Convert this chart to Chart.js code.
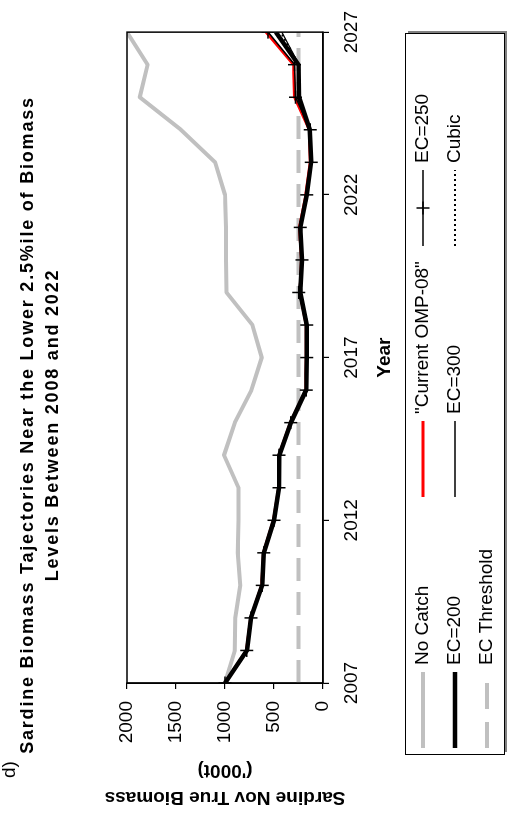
<!DOCTYPE html>
<html>
<head>
<meta charset="utf-8">
<script src="https://cdn.jsdelivr.net/npm/chart.js@4.4.0/dist/chart.umd.min.js"></script>
<style>
  html, body { margin: 0; padding: 0; background: #fff; width: 507px; height: 834px; overflow: hidden; }
  /* the landscape figure is turned a quarter turn to sit on a portrait page */
  #sheet { position: absolute; left: 0; top: 0; width: 834px; height: 507px;
           transform-origin: 0 0; transform: translate(0, 834px) rotate(-90deg); }
</style>
</head>
<body>
<div id="sheet"><canvas id="chart" width="834" height="507"></canvas></div>
<script>
// Sardine November true biomass ('000t) by year
const years = [2007,2008,2009,2010,2011,2012,2013,2014,2015,2016,2017,2018,2019,2020,2021,2022,2023,2024,2025,2026,2027];
const noCatch    = [1000, 900, 895, 845, 870, 862, 862,1010, 900, 730, 625, 720, 985, 990, 990,1000,1100,1450,1870,1790,2000];
const ompCurrent = [1000, 780, 738, 625, 608, 505, 452, 450, 332, 176, 170, 170, 235, 220, 240, 175, 130, 140, 290, 300, 580];
const ec200      = [1000, 776, 735, 621, 604, 500, 449, 446, 328, 172, 166, 166, 232, 214, 231, 166, 121, 135, 245, 250, 480];
const ec250      = [1000, 778, 735, 621, 604, 500, 449, 449, 328, 172, 166, 166, 248, 214, 231, 166, 121, 131, 280, 290, 560];
const ec300      = [1000, 776, 735, 621, 604, 500, 449, 446, 328, 172, 166, 166, 230, 214, 231, 170, 125, 140, 240, 245, 420];
const cubic      = [1000, 776, 735, 621, 604, 500, 449, 446, 328, 172, 166, 166, 230, 214, 231, 170, 125, 140, 245, 250, 430];
const thresholdYears  = [2007, 2027];
const thresholdValues = [250, 250];

const yearTicks    = [2007, 2012, 2017, 2022, 2027];
const biomassTicks = [0, 500, 1000, 1500, 2000];

const FONT = '"Liberation Sans", Arial, sans-serif';
const pts = (xs, ys) => xs.map((x, i) => ({ x: x, y: ys[i] }));

const datasets = [
  { label: 'No Catch', data: pts(years, noCatch), borderColor: '#c0c0c0', borderWidth: 4, order: 7 },
  { label: '"Current OMP-08"', data: pts(years, ompCurrent), borderColor: '#ff0000', borderWidth: 3, order: 5 },
  { label: 'EC=250', data: pts(years, ec250), borderColor: '#000', borderWidth: 1.5,
    pointStyle: 'cross', pointRadius: 6.5, pointBorderWidth: 1.5, pointBorderColor: '#000', order: 1 },
  { label: 'EC=200', data: pts(years, ec200), borderColor: '#000', borderWidth: 4.5, order: 4 },
  { label: 'EC=300', data: pts(years, ec300), borderColor: '#000', borderWidth: 1.3, order: 3 },
  { label: 'Cubic', data: pts(years, cubic), borderColor: '#000', borderWidth: 2, borderDash: [2, 3], order: 2 },
  { label: 'EC Threshold', data: pts(thresholdYears, thresholdValues), borderColor: '#c0c0c0',
    borderWidth: 4, borderDash: [23, 11], order: 6 }
];
datasets.forEach(d => {
  d.fill = false; d.tension = 0; d.borderJoinStyle = 'round';
  if (d.pointRadius === undefined) { d.pointRadius = 0; }
  d.pointHoverRadius = 0;
});

// frame round the plotting area
const frame = {
  id: 'frame',
  afterDatasetsDraw(chart) {
    const a = chart.chartArea, c = chart.ctx;
    c.save();
    c.strokeStyle = '#000'; c.lineWidth = 1.5;
    c.strokeRect(a.left, a.top, a.right - a.left, a.bottom - a.top);
    c.restore();
  }
};

// titles, panel letter and the boxed legend
const decor = {
  id: 'decor',
  afterDraw(chart) {
    const c = chart.ctx, a = chart.chartArea;
    c.save();
    c.fillStyle = '#000';
    c.textBaseline = 'middle';

    c.font = 'bold 18px ' + FONT;
    c.textAlign = 'center';
    c.letterSpacing = '1.8px';
    c.fillText('Sardine Biomass Tajectories Near the Lower 2.5%ile of Biomass', 409, 28);
    c.fillText('Levels Between 2008 and 2022', 409, 53);
    c.letterSpacing = '0px';

    c.font = '19px ' + FONT;
    c.textAlign = 'left';
    c.fillText('d)', 56, 10);

    // value axis title
    const cy = (a.top + a.bottom) / 2;
    c.font = 'bold 19px ' + FONT;
    c.textAlign = 'center';
    c.save(); c.translate(37, cy); c.rotate(-Math.PI / 2); c.fillText('Sardine Nov True Biomass', 0, 0); c.restore();
    c.save(); c.translate(64, cy); c.rotate(-Math.PI / 2); c.fillText("('000t)", 0, 0); c.restore();

    // year axis title
    c.fillText('Year', (a.left + a.right) / 2, 385);

    // legend
    const box = { x: 79, y: 405, w: 721, h: 99 };
    c.fillStyle = '#808080';
    c.fillRect(box.x + 3, box.y + 3, box.w, box.h);
    c.fillStyle = '#fff';
    c.fillRect(box.x, box.y, box.w, box.h);
    c.strokeStyle = '#000'; c.lineWidth = 1;
    c.strokeRect(box.x + 0.5, box.y + 0.5, box.w, box.h);

    const cols = [86, 337, 588];
    const rows = [423, 455, 487];
    const sample = 76;
    c.font = '19px ' + FONT;
    c.textAlign = 'left';
    datasets.forEach((d, i) => {
      const x = cols[i % 3], y = rows[Math.floor(i / 3)];
      c.save();
      c.strokeStyle = d.borderColor;
      c.lineWidth = d.borderWidth;
      c.setLineDash(d.borderDash ? (d.label === 'EC Threshold' ? [26, 13] : d.borderDash) : []);
      c.beginPath(); c.moveTo(x, y); c.lineTo(x + sample, y); c.stroke();
      c.setLineDash([]);
      if (d.pointStyle === 'cross') {
        const m = x + sample / 2, r = d.pointRadius;
        c.lineWidth = d.pointBorderWidth;
        c.beginPath(); c.moveTo(m - r, y); c.lineTo(m + r, y); c.moveTo(m, y - r); c.lineTo(m, y + r); c.stroke();
      }
      c.restore();
      c.fillStyle = '#000';
      c.fillText(d.label, x + sample + 7, y);
    });
    c.restore();
  }
};

new Chart(document.getElementById('chart'), {
  type: 'line',
  data: { datasets: datasets },
  plugins: [frame, decor],
  options: {
    responsive: false,
    animation: false,
    events: [],
    layout: { padding: { left: 60, right: 30, top: 127, bottom: 144 } },
    plugins: { legend: { display: false }, title: { display: false }, tooltip: { enabled: false } },
    scales: {
      x: {
        type: 'linear', position: 'bottom', min: 2007, max: 2027,
        afterBuildTicks: s => { s.ticks = yearTicks.map(v => ({ value: v })); },
        afterFit: s => { s.height = 40; },
        grid: { drawOnChartArea: false, color: '#000', tickLength: 6, lineWidth: 1.2 },
        border: { color: '#000', width: 1.5 },
        ticks: { color: '#000', font: { family: FONT, size: 19 }, maxRotation: 0, padding: 11,
                 callback: v => String(v) }
      },
      y: {
        type: 'linear', position: 'left', min: 0, max: 2000,
        afterBuildTicks: s => { s.ticks = biomassTicks.map(v => ({ value: v })); },
        afterFit: s => { s.width = 91; },
        grid: { drawOnChartArea: false, color: '#000', tickLength: 6, lineWidth: 1.2 },
        border: { color: '#000', width: 1.5 },
        ticks: { color: '#000', font: { family: FONT, size: 19 }, padding: 12,
                 callback: v => String(v) }
      }
    }
  }
});
</script>
</body>
</html>
